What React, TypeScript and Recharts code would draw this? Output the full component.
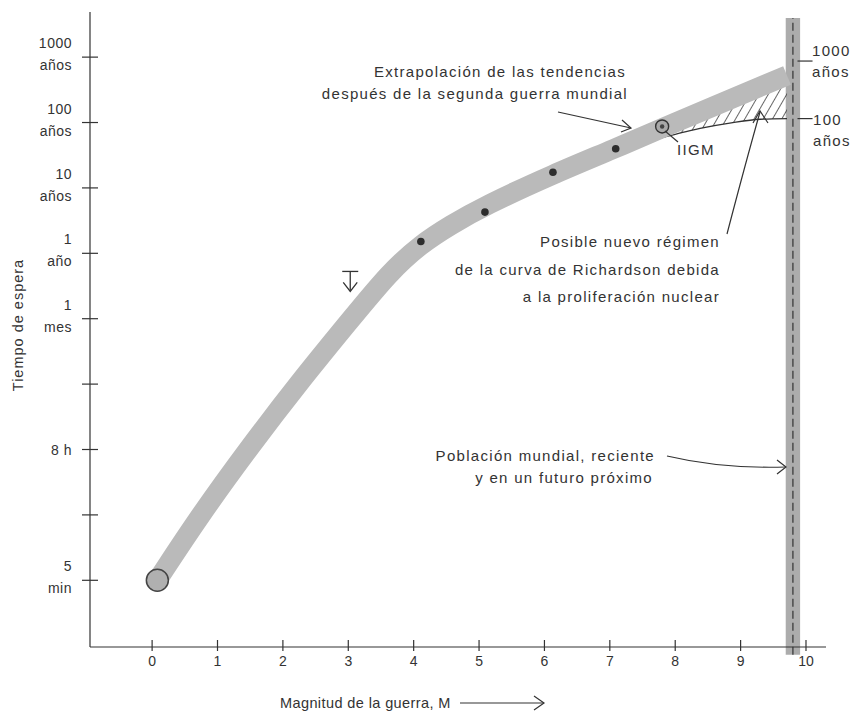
import React from 'react';
import {
  ComposedChart,
  Line,
  Area,
  Scatter,
  XAxis,
  YAxis,
  ReferenceArea,
  ReferenceLine,
} from 'recharts';

// magnitude of war (log10 of deaths) on x, waiting time on a log scale (tick index) on y
const magnitudeTicks = [0, 1, 2, 3, 4, 5, 6, 7, 8, 9, 10];
const waitTicks = [0, 1, 2, 3, 4, 5, 6, 7, 8];
const waitLabels = [
  ['5', 'min'],
  [],
  ['8 h'],
  [],
  ['1', 'mes'],
  ['1', 'año'],
  ['10', 'años'],
  ['100', 'años'],
  ['1000', 'años'],
];

// Richardson curve (grey band)
const bandM = [0.08, 0.73, 1.5, 2.26, 3.03, 3.64, 4.11, 4.56, 5.09, 6.13, 7.1, 7.78, 9.71];
const bandWait = [0, 0.99, 2.05, 3.04, 3.98, 4.72, 5.14, 5.43, 5.73, 6.21, 6.61, 6.91, 7.72];

// observed wars
const warM = [4.11, 5.09, 6.13, 7.09];
const warWait = [5.18, 5.63, 6.24, 6.6];
const wwiiM = [7.8];
const wwiiWait = [6.94];
const startM = [0.08];
const startWait = [0];
const boundM = [3.03];
const boundWait = [4.57];

// possible new regime (hatched)
const regimeM = [7.66, 8.38, 8.88, 9.3, 9.71];
const regimeLow = [6.73, 6.91, 7.0, 7.05, 7.06];
const regimeHigh = [6.86, 7.16, 7.37, 7.55, 7.72];

// world population band
const popM = [9.69, 9.91];
const popLine = 9.8;
const popTickWait = [7.94, 7.06];

const bandData = bandM.map((m, i) => ({ m, wait: bandWait[i] }));
const warData = warM.map((m, i) => ({ m, wait: warWait[i] }));
const wwiiData = wwiiM.map((m, i) => ({ m, wait: wwiiWait[i] }));
const startData = startM.map((m, i) => ({ m, wait: startWait[i] }));
const boundData = boundM.map((m, i) => ({ m, wait: boundWait[i] }));
const regimeData = regimeM.map((m, i) => ({ m, low: regimeLow[i], range: [regimeLow[i], regimeHigh[i]] }));

const INK = '#333';
const FONT = '"Liberation Sans", Arial, sans-serif';

const MagTick = (props: any) => {
  const { x, y, payload } = props;
  return (
    <g>
      <line x1={x} x2={x} y1={y - 7} y2={y + 4} stroke={INK} strokeWidth={1.2} />
      <text x={x} y={y + 19} textAnchor="middle" fontSize={14} fill={INK} fontFamily={FONT}>
        {payload.value}
      </text>
    </g>
  );
};

const WaitTick = (props: any) => {
  const { x, y, payload } = props;
  const lines = waitLabels[payload.value] || [];
  return (
    <g>
      <line x1={x - 8} x2={x + 8} y1={y} y2={y} stroke={INK} strokeWidth={1.2} />
      {lines.length === 1 && (
        <text x={x - 18} y={y + 5} textAnchor="end" fontSize={14} fill={INK} fontFamily={FONT} letterSpacing={0.5}>{lines[0]}</text>
      )}
      {lines.length === 2 && (
        <text textAnchor="end" fontSize={14} fill={INK} fontFamily={FONT} letterSpacing={0.5}>
          <tspan x={x - 18} y={y - 9}>{lines[0]}</tspan>
          <tspan x={x - 18} y={y + 13}>{lines[1]}</tspan>
        </text>
      )}
    </g>
  );
};

const axisTxt = { fontSize: 14.5, fill: INK, fontFamily: FONT, letterSpacing: 0.4 } as const;
const noteTxt = { fontSize: 15, fill: INK, fontFamily: FONT, letterSpacing: 1.3 } as const;

export default function App() {
  return (
    <div style={{ position: 'absolute', left: 0, top: 0, width: 867, height: 713, background: '#fff' }}>
      <svg width={0} height={0} style={{ position: 'absolute' }}>
        <defs>
          <pattern id="hatch" width="8" height="8" patternUnits="userSpaceOnUse" patternTransform="rotate(30)">
            <line x1="0" y1="0" x2="0" y2="8" stroke="#333" strokeWidth="1.5" />
          </pattern>
        </defs>
      </svg>
      <ComposedChart width={867} height={713} margin={{ top: 12, right: 41, bottom: 0, left: 0 }}>
        <XAxis
          type="number"
          dataKey="m"
          domain={[-0.95, 10.306]}
          ticks={magnitudeTicks}
          interval={0}
          allowDataOverflow
          height={66}
          tickSize={0}
          tickMargin={0}
          tickLine={false}
          tick={<MagTick />}
          axisLine={{ stroke: INK, strokeWidth: 1.2 }}
        />
        <YAxis
          type="number"
          domain={[-1.02, 8.69]}
          ticks={waitTicks}
          interval={0}
          allowDataOverflow
          width={90}
          tickSize={0}
          tickMargin={0}
          tickLine={false}
          tick={<WaitTick />}
          axisLine={{ stroke: INK, strokeWidth: 1.2 }}
        />
        <ReferenceArea
          x1={popM[0]}
          x2={popM[1]}
          y1={-1.14}
          y2={8.6}
          fill="#acacac"
          fillOpacity={1}
          stroke="none"
          ifOverflow="visible"
        />
        <ReferenceLine
          segment={[{ x: popLine, y: -1.14 }, { x: popLine, y: 8.6 }]}
          stroke={INK}
          strokeWidth={1.2}
          strokeDasharray="8 4"
          ifOverflow="visible"
        />
        {popTickWait.map((w) => (
          <ReferenceLine
            key={w}
            segment={[{ x: 9.87, y: w }, { x: 10.1, y: w }]}
            stroke={INK}
            strokeWidth={1.2}
            ifOverflow="visible"
          />
        ))}
        <Area
          data={regimeData}
          dataKey="range"
          type="linear"
          stroke="none"
          fill="url(#hatch)"
          fillOpacity={1}
          isAnimationActive={false}
        />
        <Line
          data={regimeData}
          dataKey="low"
          type="monotone"
          stroke={INK}
          strokeWidth={1.3}
          dot={false}
          isAnimationActive={false}
        />
        <Line
          data={bandData}
          dataKey="wait"
          type="basis"
          stroke="#bababa"
          strokeWidth={20}
          strokeLinecap="butt"
          dot={false}
          isAnimationActive={false}
        />
        <Scatter
          data={startData}
          dataKey="wait"
          isAnimationActive={false}
          shape={(p: any) => <circle cx={p.cx} cy={p.cy} r={11} fill="#b0b0b0" stroke="#444" strokeWidth={1.5} />}
        />
        <Scatter
          data={warData}
          dataKey="wait"
          isAnimationActive={false}
          shape={(p: any) => <circle cx={p.cx} cy={p.cy} r={3.8} fill="#2d2d2d" />}
        />
        <Scatter
          data={wwiiData}
          dataKey="wait"
          isAnimationActive={false}
          shape={(p: any) => (
            <g>
              <circle cx={p.cx} cy={p.cy} r={6.5} fill="#a8a8a8" stroke="#333" strokeWidth={1.4} />
              <circle cx={p.cx} cy={p.cy} r={2.2} fill="#444" />
            </g>
          )}
        />
        <Scatter
          data={boundData}
          dataKey="wait"
          isAnimationActive={false}
          shape={(p: any) => (
            <g stroke={INK} strokeWidth={1.3} fill="none">
              <line x1={p.cx - 8} x2={p.cx + 8} y1={p.cy - 10} y2={p.cy - 10} />
              <line x1={p.cx} x2={p.cx} y1={p.cy - 10} y2={p.cy + 9} />
              <polyline points={`${p.cx - 7},${p.cy + 1} ${p.cx},${p.cy + 10} ${p.cx + 7},${p.cy + 1}`} />
            </g>
          )}
        />
      </ComposedChart>
      <svg
        width={867}
        height={713}
        style={{ position: 'absolute', left: 0, top: 0, pointerEvents: 'none' }}
      >
        <text {...axisTxt} letterSpacing={1} transform="rotate(-90 18 325)" x={18} y={325} textAnchor="middle" dominantBaseline="central">
          Tiempo de espera
        </text>
        <text {...axisTxt} x={280} y={708}>Magnitud de la guerra, M</text>
        <g stroke={INK} strokeWidth={1.2} fill="none">
          <line x1={460} y1={703} x2={544} y2={703} />
          <polyline points="534,696 544,703 534,710" />
        </g>

        <text {...noteTxt} textAnchor="end">
          <tspan x={626} y={77}>Extrapolación de las tendencias</tspan>
          <tspan x={628} y={99}>después de la segunda guerra mundial</tspan>
        </text>
        <g stroke={INK} strokeWidth={1.2} fill="none">
          <path d="M 558 112 L 631 128" />
          <polyline points="622,120 631,128 621,132" />
        </g>

        <line x1={665} y1={131} x2={678} y2={142} stroke={INK} strokeWidth={1.2} />
        <text {...noteTxt} x={677} y={155}>IIGM</text>

        <text {...noteTxt} textAnchor="end">
          <tspan x={720} y={247}>Posible nuevo régimen</tspan>
          <tspan x={720} y={275}>de la curva de Richardson debida</tspan>
          <tspan x={720} y={302}>a la proliferación nuclear</tspan>
        </text>
        <g stroke={INK} strokeWidth={1.2} fill="none">
          <path d="M 727 234 Q 745 165 760 112" />
          <polyline points="753,123 760,111 768,123" />
        </g>

        <text {...noteTxt} textAnchor="end">
          <tspan x={655} y={461}>Población mundial, reciente</tspan>
          <tspan x={653} y={483}>y en un futuro próximo</tspan>
        </text>
        <g stroke={INK} strokeWidth={1.2} fill="none">
          <path d="M 667 456 Q 722 469 786 467" />
          <polyline points="777,460 786,467 777,474" />
        </g>

        <text {...noteTxt}>
          <tspan x={812} y={56}>1000</tspan>
          <tspan x={812} y={77}>años</tspan>
        </text>
        <text {...noteTxt}>
          <tspan x={813} y={125}>100</tspan>
          <tspan x={813} y={146}>años</tspan>
        </text>
      </svg>
    </div>
  );
}
